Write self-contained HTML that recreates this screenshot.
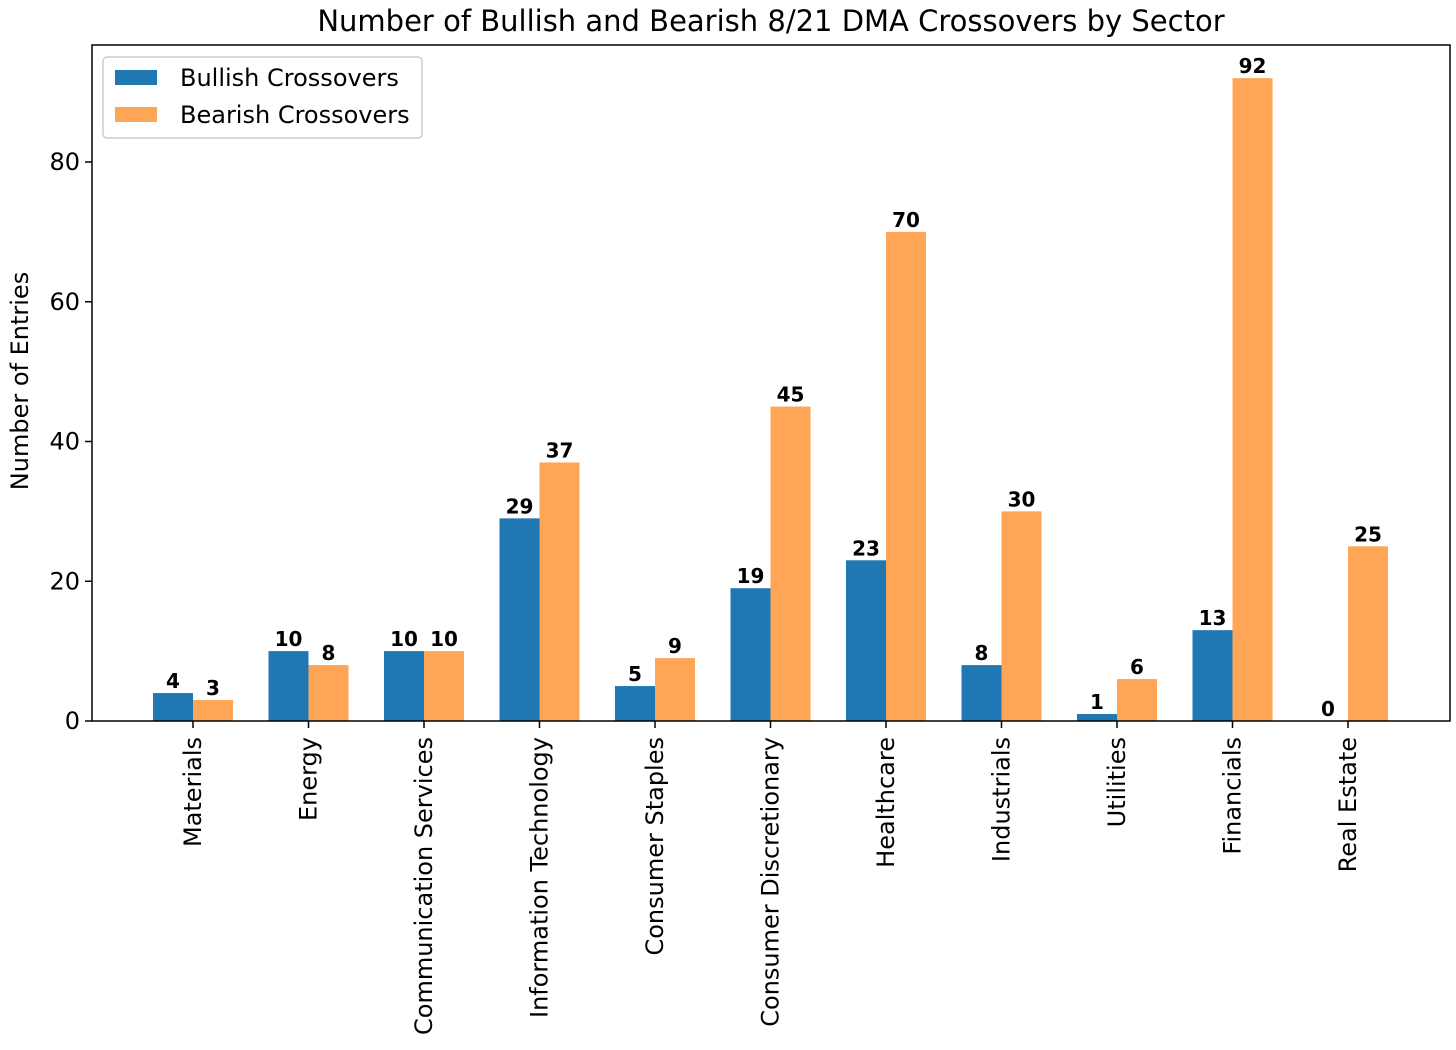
<!DOCTYPE html>
<html><head><meta charset="utf-8"><style>
body{margin:0;background:#fff;}
svg{font-family:"DejaVu Sans","Liberation Sans",sans-serif;}
</style></head><body>
<svg id="c" width="1456" height="1045"></svg>
<script>
const categories=["Materials","Energy","Communication Services","Information Technology","Consumer Staples","Consumer Discretionary","Healthcare","Industrials","Utilities","Financials","Real Estate"];
const bullish=[4,10,10,29,5,19,23,8,1,13,0];
const bearish=[3,8,10,37,9,45,70,30,6,92,25];
const yTicks=[0,20,40,60,80];
const NS="http://www.w3.org/2000/svg";
const svg=document.getElementById('c');
const L=92,R=1450,T=45,B=721;
const y=v=>B-v*(B-162)/80;
const x=i=>193+i*115.5;
const bw=40;
function el(tag,attrs,txt){const e=document.createElementNS(NS,tag);for(const k in attrs)e.setAttribute(k,attrs[k]);if(txt!==undefined)e.textContent=txt;svg.appendChild(e);return e;}
let t=el('text',{x:(L+R)/2,y:31,'text-anchor':'middle','font-size':29,fill:'#000'},'Number of Bullish and Bearish 8/21 DMA Crossovers by Sector');


categories.forEach((c,i)=>{
  let b=el('rect',{x:x(i)-bw,y:y(bullish[i]),width:bw,height:B-y(bullish[i]),fill:'#1f77b4'});
  
  
  let r=el('rect',{x:x(i),y:y(bearish[i]),width:bw,height:B-y(bearish[i]),fill:'#ffa556'});
  
  
  let v1=el('text',{x:x(i)-bw/2,y:y(bullish[i])-5,'text-anchor':'middle','font-size':20,'font-weight':'bold'},String(bullish[i]));
  
  
  let v2=el('text',{x:x(i)+bw/2,y:y(bearish[i])-5,'text-anchor':'middle','font-size':20,'font-weight':'bold'},String(bearish[i]));
  
  
  el('line',{x1:x(i),x2:x(i),y1:B,y2:B+7,stroke:'#000','stroke-width':1.5});
  let tl=el('text',{x:0,y:0,'text-anchor':'end','font-size':24,transform:`translate(${x(i)+8},${B+16}) rotate(-90)`},c);
  
  
});
yTicks.forEach(v=>{
  el('line',{x1:L-7,x2:L,y1:y(v),y2:y(v),stroke:'#000','stroke-width':1.5});
  let tl=el('text',{x:L-12,y:y(v)+8,'text-anchor':'end','font-size':24},String(v));
  
  
});
let ax=el('rect',{x:L,y:T,width:R-L,height:B-T,fill:'none',stroke:'#000','stroke-width':1.5});


let yl=el('text',{x:0,y:0,'text-anchor':'middle','font-size':24,transform:`translate(28,${(T+B)/2 - 2}) rotate(-90)`},'Number of Entries');


let lg=el('rect',{x:103,y:57,width:319,height:81,rx:4,fill:'#fff',stroke:'#ccc','stroke-width':1.5});


el('rect',{x:115,y:70,width:42,height:15,fill:'#1f77b4'});
el('rect',{x:115,y:107,width:42,height:15,fill:'#ffa556'});
let l1=el('text',{x:180,y:86,'font-size':24},'Bullish Crossovers');


let l2=el('text',{x:180,y:123,'font-size':24},'Bearish Crossovers');


</script>
</body></html>
